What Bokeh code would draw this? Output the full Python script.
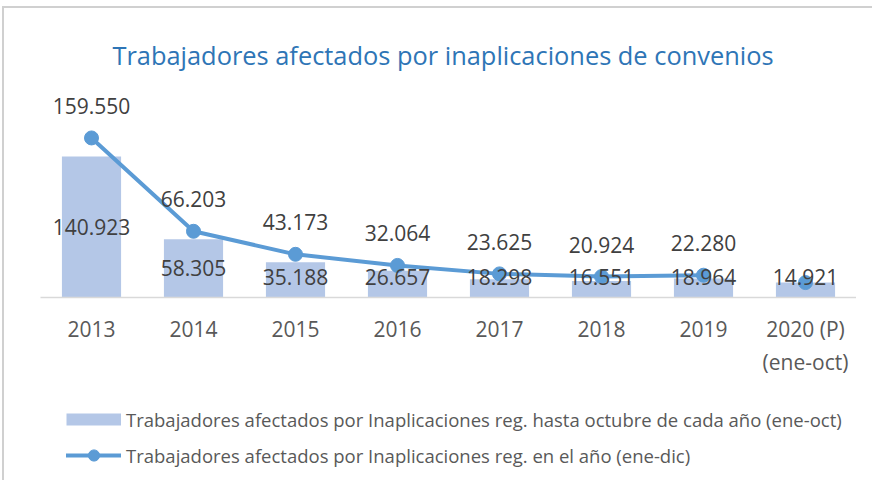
from bokeh.plotting import figure
from bokeh.layouts import column
from bokeh.models import ColumnDataSource, FactorRange, Range1d, Label, Legend, LegendItem
from bokeh.core.properties import value
from bokeh.embed import file_html
from bokeh.resources import INLINE

# ---- data ----
years = ["2013", "2014", "2015", "2016", "2017", "2018", "2019", "2020 (P)"]
last_tick_second_line = "(ene-oct)"
hasta_oct = [140923, 58305, 35188, 26657, 18298, 16551, 18964, 14921]
ene_dic = [159550, 66203, 43173, 32064, 23625, 20924, 22280, 14921]
title_text = "Trabajadores afectados por inaplicaciones de convenios"
legend_bar = "Trabajadores afectados por Inaplicaciones reg. hasta octubre de cada año (ene-oct)"
legend_line = "Trabajadores afectados por Inaplicaciones reg. en el año (ene-dic)"

FONT = "Open Sans"
BAR = "#B4C7E7"
LINE = "#5B9BD5"
EDGE = "#D9D9D9"
BORDER = "#D0D0D0"
TOP_OFF = 8            # page y of the chart content (after border)
LEFT_OFF = 4           # page x of the chart content (after border)
BASE_Y = 297           # page y of the category axis
FRAME_H = BASE_Y - TOP_OFF
AX_H = 48
Q_H = 472 - BASE_Y - AX_H
CAT_W = 816 / len(years)


def fmt(v):
    return f"{v:,}".replace(",", ".")


bar_src = ColumnDataSource(dict(
    x=years,
    top=hasta_oct,
    ly=[max(v / 2, 21000) for v in hasta_oct],
    lab=[fmt(v) for v in hasta_oct],
))
n_line = len(years) - 1
line_src = ColumnDataSource(dict(
    x=years[:n_line],
    y=ene_dic[:n_line],
    lab=[fmt(v) for v in ene_dic[:n_line]],
))
pts_src = ColumnDataSource(dict(x=years, y=ene_dic))

# ---- main chart ----
p = figure(
    width=856 - LEFT_OFF, height=FRAME_H + AX_H,
    x_range=FactorRange(*years),
    y_range=Range1d(0, FRAME_H * 1000),
    output_backend="svg", toolbar_location=None,
    y_axis_location=None,
    min_border_left=40 - LEFT_OFF, min_border_right=0,
    min_border_top=0, min_border_bottom=AX_H,
)
p.outline_line_color = None
p.grid.visible = False

bars = p.vbar(x="x", top="top", width=0.58, source=bar_src,
              fill_color=BAR, line_color=None)
line_r = p.line(x="x", y="y", source=line_src, line_color=LINE,
                line_width=4, line_join="round", line_cap="round")
pts = p.scatter(x="x", y="y", source=pts_src, size=14,
                fill_color=LINE, line_color=LINE)

p.text(x="x", y="ly", text="lab", source=bar_src,
       text_font=value(FONT), text_font_size="21px", text_color="#404040",
       text_align="center", text_baseline="middle")
p.text(x="x", y="y", text="lab", source=line_src,
       text_font=value(FONT), text_font_size="21px", text_color="#404040",
       text_align="center", text_baseline="middle", y_offset=-32)

p.add_layout(Label(x=402.5, y=BASE_Y - 54, x_units="screen", y_units="screen",
                   text=title_text, text_align="center",
                   text_baseline="alphabetic", text_font=FONT,
                   text_font_size="25.4px", text_color="#2E75B6"))

ax = p.xaxis[0]
ax.major_label_text_font = FONT
ax.major_label_text_font_size = "21px"
ax.major_label_text_color = "#595959"
ax.axis_line_color = EDGE
ax.axis_line_width = 1.5
ax.major_tick_line_color = None
ax.minor_tick_line_color = None
ax.major_tick_out = 0
ax.major_tick_in = 0
ax.major_label_standoff = 17

# ---- legend strip (also holds the 2nd line of the last category) ----
q = figure(
    width=856 - LEFT_OFF, height=Q_H,
    x_range=Range1d(0, 1), y_range=Range1d(0, 1),
    output_backend="svg", toolbar_location=None,
    x_axis_location=None, y_axis_location=None,
    min_border_left=40 - LEFT_OFF, min_border_right=0,
    min_border_top=0, min_border_bottom=0,
)
q.outline_line_color = None
q.grid.visible = False

q.add_layout(Label(x=CAT_W * (len(years) - 0.5), y=472 - 361,
                   x_units="screen", y_units="screen",
                   text=last_tick_second_line, text_align="center",
                   text_baseline="alphabetic", text_font=FONT,
                   text_font_size="21px", text_color="#595959"))

# legend swatch renderers (single points outside the visible range)
lb = q.line(x=[0.5], y=[-5], line_color=BAR, line_width=12, line_cap="butt")
ll = q.line(x=[0.5], y=[-5], line_color=LINE, line_width=4, line_cap="round")
ls = q.scatter(x=[0.5], y=[-5], size=11, fill_color=LINE, line_color=LINE)

legend = Legend(
    items=[LegendItem(label=legend_bar, renderers=[lb]),
           LegendItem(label=legend_line, renderers=[ll, ls])],
    location=(26, 3), margin=0, padding=0, spacing=8,
    glyph_width=55, glyph_height=28, label_standoff=5,
    label_text_font=FONT, label_text_font_size="18.5px",
    label_text_color="#595959",
    border_line_color=None, background_fill_alpha=0,
)
q.add_layout(legend)

root = column(p, q, spacing=0, styles={
    "border-top": f"2px solid {BORDER}", "border-left": f"2px solid {BORDER}",
    "margin-left": "2px", "margin-top": "6px",
    "padding-right": "16px", "padding-bottom": "8px"})

open("out.html", "w").write(file_html(root, INLINE))
